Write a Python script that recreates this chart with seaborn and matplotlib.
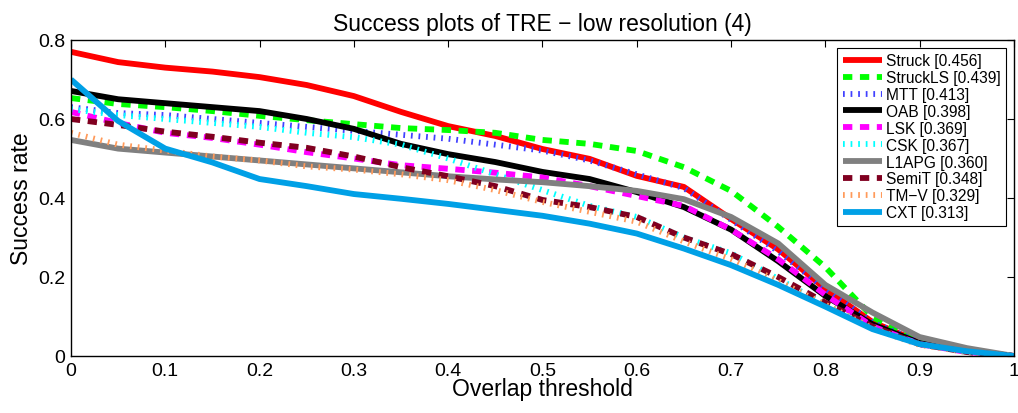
import matplotlib
matplotlib.use("Agg")
import matplotlib.pyplot as plt
import seaborn as sns
import pandas as pd
from matplotlib.ticker import FuncFormatter

# overlap thresholds
thresholds = [0.0, 0.05, 0.1, 0.15, 0.2, 0.25, 0.3, 0.35, 0.4, 0.45, 0.5,
              0.55, 0.6, 0.65, 0.7, 0.75, 0.8, 0.85, 0.9, 0.95, 1.0]

trackers = ["Struck", "StruckLS", "MTT", "OAB", "LSK", "CSK", "L1APG", "SemiT", "TM−V", "CXT"]
scores = ["0.456", "0.439", "0.413", "0.398", "0.369", "0.367", "0.360", "0.348", "0.329", "0.313"]

struck = [0.770, 0.744, 0.730, 0.720, 0.706, 0.686, 0.658, 0.618, 0.582, 0.557, 0.524,
          0.499, 0.456, 0.428, 0.347, 0.270, 0.170, 0.086, 0.035, 0.013, 0.0]
struckls = [0.653, 0.638, 0.630, 0.620, 0.608, 0.597, 0.587, 0.577, 0.572, 0.565, 0.547,
            0.537, 0.519, 0.478, 0.418, 0.327, 0.225, 0.099, 0.035, 0.013, 0.0]
mtt = [0.630, 0.615, 0.610, 0.600, 0.590, 0.580, 0.570, 0.560, 0.550, 0.535, 0.520,
       0.495, 0.460, 0.425, 0.345, 0.265, 0.170, 0.085, 0.035, 0.012, 0.0]
oab = [0.671, 0.650, 0.640, 0.630, 0.620, 0.600, 0.575, 0.537, 0.511, 0.491, 0.466,
       0.448, 0.415, 0.377, 0.320, 0.240, 0.152, 0.080, 0.033, 0.012, 0.0]
lsk = [0.618, 0.590, 0.565, 0.552, 0.535, 0.516, 0.500, 0.483, 0.474, 0.464, 0.452,
       0.430, 0.405, 0.380, 0.320, 0.245, 0.155, 0.075, 0.030, 0.010, 0.0]
csk = [0.625, 0.610, 0.600, 0.590, 0.580, 0.565, 0.554, 0.535, 0.500, 0.460, 0.420,
       0.380, 0.352, 0.300, 0.260, 0.195, 0.130, 0.070, 0.030, 0.010, 0.0]
l1apg = [0.547, 0.525, 0.515, 0.505, 0.495, 0.485, 0.475, 0.465, 0.455, 0.447, 0.440,
         0.430, 0.418, 0.397, 0.352, 0.285, 0.180, 0.110, 0.048, 0.020, 0.0]
semit = [0.600, 0.585, 0.568, 0.555, 0.540, 0.527, 0.505, 0.478, 0.455, 0.430, 0.395,
         0.377, 0.352, 0.300, 0.258, 0.200, 0.135, 0.075, 0.030, 0.010, 0.0]
tmv = [0.565, 0.535, 0.520, 0.505, 0.495, 0.480, 0.472, 0.460, 0.445, 0.420, 0.390,
       0.365, 0.340, 0.290, 0.245, 0.190, 0.130, 0.070, 0.028, 0.010, 0.0]
cxt = [0.700, 0.595, 0.525, 0.490, 0.448, 0.430, 0.410, 0.398, 0.385, 0.370, 0.355,
       0.335, 0.310, 0.272, 0.230, 0.180, 0.125, 0.068, 0.030, 0.012, 0.0]

curves = [struck, struckls, mtt, oab, lsk, csk, l1apg, semit, tmv, cxt]

colors = ["#ff0000", "#00ff00", "#4040ff", "#000000", "#ff00ff",
          "#00ffff", "#808080", "#800020", "#ff9a5a", "#00a0e6"]
dash = (0, (1.6, 1.3))
dot = (0, (0.3, 1.0))
styles = ["-", dash, dot, "-", dash, dot, "-", dash, dot, "-"]

sns.set_theme(style="white")
plt.rcParams['font.family'] = ['Liberation Sans', 'DejaVu Sans']
plt.rcParams['xtick.direction'] = 'in'
plt.rcParams['ytick.direction'] = 'in'
plt.rcParams['text.color'] = 'black'
plt.rcParams['axes.labelcolor'] = 'black'
plt.rcParams['xtick.color'] = 'black'
plt.rcParams['ytick.color'] = 'black'

fig = plt.figure(figsize=(10.18, 4.14), dpi=100)
ax = fig.add_axes([0.0697, 0.1377, 0.9263, 0.7633])

for name, score, vals, c, ls in zip(trackers, scores, curves, colors, styles):
    df = pd.DataFrame({"threshold": thresholds, "rate": vals})
    sns.lineplot(data=df, x="threshold", y="rate", ax=ax, color=c, linewidth=4.2,
                 linestyle=ls, label=f"{name} [{score}]")

for line in ax.get_lines():
    line.set_dash_capstyle("butt")
    line.set_solid_capstyle("butt")

ax.set_xlim(0, 1)
ax.set_ylim(0, 0.8)
ax.set_xticks([i / 10 for i in range(11)])
ax.set_yticks([0, 0.2, 0.4, 0.6, 0.8])
fmt = FuncFormatter(lambda v, p: f"{v:g}")
ax.xaxis.set_major_formatter(fmt)
ax.yaxis.set_major_formatter(fmt)
ax.tick_params(axis="both", which="major", labelsize=14, length=5, width=0.8,
               top=True, right=True, color="black", labelcolor="black", pad=4)
for s in ax.spines.values():
    s.set_color("black")
    s.set_linewidth(1.0)

ax.set_title("Success plots of TRE − low resolution (4)", fontsize=16.5, pad=7)
ax.set_xlabel("Overlap threshold", fontsize=16.5, labelpad=-1)
ax.set_ylabel("Success rate", fontsize=16.5, labelpad=4)

leg = ax.legend(loc="upper right", fontsize=11.2, frameon=True, fancybox=False,
                edgecolor="black", framealpha=1, handlelength=2.5,
                borderpad=0.35, labelspacing=0.12, handletextpad=0.3,
                borderaxespad=0, bbox_to_anchor=(0.992, 0.975))
leg.get_frame().set_linewidth(0.8)
for h in leg.get_lines():
    h.set_dash_capstyle("butt")

fig.savefig("out.png", dpi=100)
